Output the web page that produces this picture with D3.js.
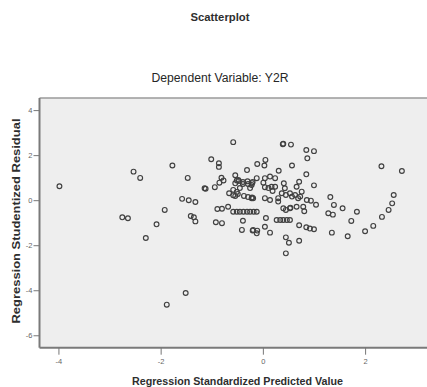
<!DOCTYPE html>
<html>
<head>
<meta charset="utf-8">
<script src="https://cdn.jsdelivr.net/npm/d3@7"></script>
<style>
  html, body { margin: 0; padding: 0; background: #fff; }
  svg { display: block; font-family: "Liberation Sans", Arial, sans-serif; }
  .chart-title { font-size: 11px; font-weight: bold; fill: #2e2e2e; }
  .chart-subtitle { font-size: 12px; fill: #262626; }
  .axis-title { font-size: 10.5px; font-weight: bold; fill: #2e2e2e; }
  .tick-label { font-size: 7.5px; fill: #666; }
  .tick-line { stroke: #777; stroke-width: 1; }
  .point { fill: none; stroke: #404040; stroke-width: 1.15; }
</style>
</head>
<body>
<svg id="chart"></svg>
<script>
// Regression standardized predicted values (x) and studentized residuals (y)
const predicted = [
  -3.99, -2.76, -2.65, -2.54, -2.41, -2.30, -2.09, -1.93, -1.89, -1.78,
  -1.59, -1.46, -1.33, -1.52, -1.48, -1.42, -1.36, -1.33, -1.15, -1.13,
  -1.02, -0.95, -0.93, -0.87, -0.87, -0.90, -0.81, -0.82, -0.86, -0.78,
  -0.81, -0.67, -0.69, -0.59, -0.55, -0.52, -0.59, -0.49, -0.55, -0.46,
  -0.50, -0.55, -0.59, -0.52,
  -0.59, -0.52, -0.46, -0.39, -0.32, -0.26, -0.19, -0.13,
  -0.42, -0.40, -0.32, -0.40, -0.30, -0.23, -0.22, -0.26, -0.13, -0.38,
  -0.30, -0.23, -0.22, -0.20, -0.21, -0.13, -0.12, -0.12, 0.04, 0.02,
  0.03, 0.13, 0.23, 0.10, 0.23, 0.03, 0.13, 0.29, 0.29, 0.05,
  0.13, 0.03, 0.30, 0.38, 0.39, 0.54, 0.42, 0.52, 0.65, 0.62,
  0.70, 0.56, 0.52, 0.53, 0.39, 0.44, 0.68, 0.75, 0.78, 0.80,
  0.84, 0.84, 0.86, 0.99, 0.99, 0.93, 1.03,
  0.26, 0.33, 0.39, 0.46, 0.52,
  0.44, 0.50, 0.44, 0.70, 0.70, 0.84, 0.91, 0.99, 1.31, 1.38,
  1.27, 1.36, 1.34, 1.55, 1.65, 1.72, 1.83, 1.99, 2.15, 2.32,
  2.31, 2.45, 2.52, 2.55, 2.71,
  0.00, 0.03, 0.16, 0.18, 0.40, 0.36, 0.44, 0.56, -0.48, -0.40,
  -0.31, -0.21, 0.72, 0.85, 0.65, -0.20
];
const residual = [
  0.64, -0.74, -0.78, 1.29, 1.01, -1.66, -1.05, -0.41, -4.62, 1.56,
  0.08, 0.02, -0.06, -4.10, 1.01, -0.68, -0.74, -0.92, 0.55, 0.53,
  1.84, 0.60, -0.96, 1.66, 1.50, -0.37, -0.36, 1.02, 0.80, 0.90,
  -1.00, 0.33, -0.27, 2.60, 1.13, 0.90, 0.48, 0.92, 0.21, 0.56,
  0.30, 0.77, 0.24, 0.39,
  -0.49, -0.49, -0.49, -0.49, -0.49, -0.49, -0.49, -0.49,
  -1.30, -0.89, 1.36, 0.74, 0.74, 0.70, 0.78, 0.56, 1.00, 0.21,
  0.16, 0.11, 0.14, 0.11, -1.33, -1.45, -1.33, 1.63, 1.81, 1.56,
  1.00, 1.07, 1.00, 0.56, 0.62, 0.11, 0.03, 0.11, -0.04, -0.77,
  -1.42, -1.16, 1.33, 2.51, 2.53, 2.49, 0.55, 0.33, 0.62, 0.25,
  0.84, 1.56, -0.34, -0.31, -0.34, -0.41, 0.11, 0.40, -0.27, -0.47,
  1.17, 2.25, 1.88, 2.20, 0.68, 0.00, -0.18,
  -0.86, -0.86, -0.86, -0.86, -0.86,
  -1.63, -1.87, -2.34, -1.78, -1.09, -1.18, -1.24, -1.27, 0.16, -0.19,
  -0.56, -0.62, -1.42, -0.34, -1.58, -0.90, -0.49, -1.36, -1.12, -0.72,
  1.53, -0.41, -0.12, 0.25, 1.32,
  0.80, 0.60, 0.62, 0.43, 0.77, 0.33, 0.25, 0.18, 0.87, 0.83,
  0.86, 0.83, 0.18, 0.03, -0.27, -1.30
];
const xTicks = [-4, -2, 0, 2];
const yTicks = [4, 2, 0, -2, -4, -6];
const xDomain = [-4.38, 3.26];
const yDomain = [-6.53, 4.56];

const width = 427;
const height = 387;
const plot = { left: 39.5, right: 430, top: 98, bottom: 347.7 };

const svg = d3.select("#chart").attr("width", width).attr("height", height);

const x = d3.scaleLinear().domain(xDomain).range([plot.left, plot.right]);
const y = d3.scaleLinear().domain(yDomain).range([plot.bottom, plot.top]);

// Titles
svg.append("text")
  .attr("class", "chart-title")
  .attr("x", 220).attr("y", 20.5)
  .attr("text-anchor", "middle")
  .attr("textLength", 59)
  .attr("lengthAdjust", "spacingAndGlyphs")
  .text("Scatterplot");

svg.append("text")
  .attr("class", "chart-subtitle")
  .attr("x", 220).attr("y", 82)
  .attr("text-anchor", "middle")
  .attr("textLength", 137)
  .attr("lengthAdjust", "spacingAndGlyphs")
  .text("Dependent Variable: Y2R");

// Plot background
svg.append("rect")
  .attr("x", plot.left).attr("y", plot.top)
  .attr("width", plot.right - plot.left)
  .attr("height", plot.bottom - plot.top)
  .attr("fill", "#eeeeee");

// Frame: top thin, left and bottom heavier
svg.append("line")
  .attr("x1", plot.left).attr("x2", plot.right)
  .attr("y1", plot.top).attr("y2", plot.top)
  .attr("stroke", "#9a9a9a").attr("stroke-width", 1.5);
svg.append("line")
  .attr("x1", plot.left).attr("x2", plot.left)
  .attr("y1", plot.top).attr("y2", plot.bottom)
  .attr("stroke", "#7a7a7a").attr("stroke-width", 2);
svg.append("line")
  .attr("x1", plot.left).attr("x2", plot.right)
  .attr("y1", plot.bottom).attr("y2", plot.bottom)
  .attr("stroke", "#7a7a7a").attr("stroke-width", 2);

// Y axis ticks
const yAxis = svg.append("g");
yTicks.forEach((t) => {
  yAxis.append("line")
    .attr("class", "tick-line")
    .attr("x1", plot.left - 6).attr("x2", plot.left)
    .attr("y1", y(t)).attr("y2", y(t));
  yAxis.append("text")
    .attr("class", "tick-label")
    .attr("x", plot.left - 7).attr("y", y(t))
    .attr("dy", "0.35em")
    .attr("text-anchor", "end")
    .text(t);
});

// X axis ticks
const xAxis = svg.append("g");
xTicks.forEach((t) => {
  xAxis.append("line")
    .attr("class", "tick-line")
    .attr("x1", x(t)).attr("x2", x(t))
    .attr("y1", plot.bottom).attr("y2", plot.bottom + 7);
  xAxis.append("text")
    .attr("class", "tick-label")
    .attr("x", x(t)).attr("y", plot.bottom + 16)
    .attr("text-anchor", "middle")
    .text(t);
});

// Axis titles
svg.append("text")
  .attr("class", "axis-title")
  .attr("x", 237.5).attr("y", 384.5)
  .attr("text-anchor", "middle")
  .attr("textLength", 211)
  .attr("lengthAdjust", "spacingAndGlyphs")
  .text("Regression Standardized Predicted Value");

svg.append("text")
  .attr("class", "axis-title")
  .attr("transform", "translate(19.5,221) rotate(-90)")
  .attr("text-anchor", "middle")
  .attr("textLength", 205)
  .attr("lengthAdjust", "spacingAndGlyphs")
  .text("Regression Studentized Residual");

// Points
const points = predicted.map((p, i) => ({ p, r: residual[i] }));
svg.append("g")
  .selectAll("circle")
  .data(points)
  .join("circle")
  .attr("class", "point")
  .attr("cx", (d) => x(d.p))
  .attr("cy", (d) => y(d.r))
  .attr("r", 2.4);
</script>
</body>
</html>
